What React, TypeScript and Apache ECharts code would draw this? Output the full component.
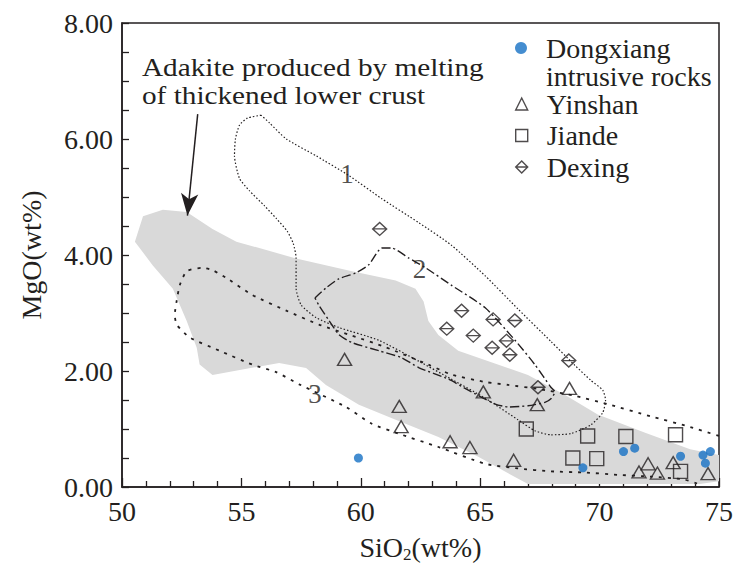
import React, { useEffect, useRef } from 'react';
import * as echarts from 'echarts';

const FONT = '"Liberation Serif", "Times New Roman", serif';
const INK = '#231f20';
const BLUE = '#1570c4';
const GREY = '#d9d9d9';

// ---- axes ----
const xTicks = [50, 55, 60, 65, 70, 75];
const yTicks = [0, 2, 4, 6, 8];

// ---- samples (SiO2, MgO) ----
const dongxiang = [[59.9, 0.5], [69.3, 0.33], [71.0, 0.61], [71.47, 0.67], [73.39, 0.53], [74.33, 0.55], [74.64, 0.61], [74.43, 0.41]];
const yinshan = [[59.32, 2.2], [61.61, 1.39], [61.69, 1.04], [65.13, 1.64], [68.74, 1.7], [67.39, 1.42], [63.74, 0.78], [64.57, 0.68], [66.4, 0.46], [72.03, 0.4], [71.65, 0.26], [72.42, 0.24], [73.08, 0.42], [74.54, 0.23]];
const jiande = [[66.93, 1.0], [69.5, 0.88], [71.1, 0.87], [73.18, 0.9], [68.88, 0.5], [69.88, 0.49], [73.39, 0.27]];
const dexing = [[60.79, 4.45], [64.22, 3.04], [63.6, 2.73], [64.71, 2.61], [65.54, 2.89], [66.45, 2.87], [66.1, 2.52], [65.5, 2.4], [66.24, 2.28], [68.71, 2.18], [67.42, 1.72]];

// ---- fields ----
const adakiteField = [[50.54, 4.23], [50.88, 4.67], [51.71, 4.78], [52.71, 4.74], [53.79, 4.45], [54.79, 4.23], [57.29, 3.94], [59.63, 3.72], [61.46, 3.56], [62.29, 3.42], [62.63, 3.2], [62.83, 2.86], [63.25, 2.62], [64.08, 2.35], [67.0, 1.93], [68.54, 1.59], [69.92, 1.25], [71.88, 0.94], [73.79, 0.65], [75.0, 0.55], [75.0, 0.1], [74.2, 0.05], [67.0, 0.05], [64.92, 0.52], [63.25, 0.86], [61.46, 1.16], [59.92, 1.42], [58.54, 1.76], [57.71, 2.05], [56.58, 2.14], [53.79, 1.93], [53.25, 2.11], [53.13, 2.4], [52.71, 2.86], [52.13, 3.42], [51.29, 3.82]];
const field1 = [[55.83, 6.41], [55.25, 6.36], [54.92, 6.24], [54.75, 6.0], [54.71, 5.71], [54.92, 5.32], [55.33, 5.11], [55.96, 4.85], [56.46, 4.63], [56.92, 4.41], [57.17, 4.2], [57.29, 3.95], [57.29, 3.43], [57.5, 3.14], [58.13, 2.92], [59.08, 2.75], [60.75, 2.53], [62.42, 2.17], [63.79, 1.86], [65.21, 1.53], [66.58, 1.16], [67.29, 0.97], [67.96, 0.9], [68.79, 0.92], [69.63, 1.07], [70.13, 1.28], [70.25, 1.5], [70.13, 1.67], [69.63, 1.84], [68.96, 2.1], [67.96, 2.51], [66.58, 3.07], [65.21, 3.64], [63.79, 4.17], [62.42, 4.56], [60.88, 4.97], [59.5, 5.37], [58.13, 5.71], [56.88, 6.0], [56.17, 6.28], [55.83, 6.41]];
const field2 = [[58.08, 3.26], [58.54, 3.43], [59.08, 3.59], [59.79, 3.69], [60.33, 3.83], [60.88, 4.12], [61.29, 4.12], [62.0, 3.95], [62.71, 3.78], [63.79, 3.48], [65.21, 3.09], [66.46, 2.53], [67.29, 2.11], [67.96, 1.72], [68.13, 1.64], [67.96, 1.52], [67.71, 1.46], [67.0, 1.4], [66.17, 1.38], [65.63, 1.43], [64.5, 1.67], [63.67, 1.86], [62.42, 2.06], [61.71, 2.23], [60.75, 2.35], [59.63, 2.49], [59.08, 2.63], [58.67, 2.87], [58.25, 3.13], [58.08, 3.26]];
const field3 = [[75.0, 0.88], [73.67, 1.05], [72.13, 1.22], [70.33, 1.43], [68.88, 1.58], [67.42, 1.69], [66.17, 1.76], [65.21, 1.81], [63.79, 1.94], [62.83, 2.11], [61.04, 2.41], [59.63, 2.61], [58.25, 2.8], [56.88, 3.04], [55.46, 3.31], [54.5, 3.57], [53.79, 3.74], [53.38, 3.78], [52.71, 3.72], [52.42, 3.48], [52.29, 3.21], [52.21, 2.97], [52.29, 2.8], [52.83, 2.58], [54.08, 2.35], [55.46, 2.11], [56.46, 1.98], [57.42, 1.77], [59.38, 1.38], [60.46, 1.09], [61.58, 0.92], [63.25, 0.69], [65.21, 0.4], [66.58, 0.32], [67.96, 0.27], [69.38, 0.25], [70.75, 0.21], [72.13, 0.18], [73.54, 0.13], [74.08, 0.06]];
const fieldLabels = [{ name: '1', value: [59.42, 5.39] }, { name: '2', value: [62.46, 3.76] }, { name: '3', value: [58.08, 1.6] }];
const arrowFrom = [53.17, 6.43];
const arrowTo = [52.74, 4.68];

const DIAMOND = 'path://M10,0 L20,10 L10,20 L0,10 Z M0,10 L20,10';
const hollow = { color: 'rgba(0,0,0,0)', borderColor: INK, borderWidth: 1.4 };

const option: any = {
  animation: false,
  backgroundColor: '#ffffff',
  textStyle: { fontFamily: FONT },
  grid: { left: 122, right: 14, top: 23, bottom: 78, show: true, borderColor: INK, borderWidth: 1.5, backgroundColor: 'transparent' },
  xAxis: {
    type: 'value', min: xTicks[0], max: xTicks[xTicks.length - 1], interval: 5,
    name: 'SiO{sub|2}(wt%)', nameLocation: 'middle', nameGap: 45,
    nameTextStyle: { fontFamily: FONT, fontSize: 28, color: INK, rich: { sub: { fontFamily: FONT, fontSize: 17, color: INK, padding: [14, 0, 0, 0] } } },
    axisLine: { lineStyle: { color: INK, width: 1.5 } },
    axisTick: { inside: true, length: 9, lineStyle: { color: INK, width: 1.3 } },
    minorTick: { show: true, splitNumber: 5, length: 6, lineStyle: { color: INK, width: 1.3 } },
    axisLabel: { fontFamily: FONT, fontSize: 28, color: INK, margin: 10 },
    splitLine: { show: false },
  },
  yAxis: {
    type: 'value', min: yTicks[0], max: yTicks[yTicks.length - 1], interval: 2,
    name: 'MgO(wt%)', nameLocation: 'middle', nameGap: 77, nameRotate: 90,
    nameTextStyle: { fontFamily: FONT, fontSize: 28, color: INK },
    axisLine: { lineStyle: { color: INK, width: 1.5 } },
    axisTick: { inside: true, length: 7, lineStyle: { color: INK, width: 1.3 } },
    minorTick: { show: true, splitNumber: 4, length: 7, lineStyle: { color: INK, width: 1.3 } },
    axisLabel: { fontFamily: FONT, fontSize: 28, color: INK, margin: 9, formatter: (v: number) => v.toFixed(2) },
    splitLine: { show: false },
  },
  legend: [
    {
      data: [{ name: 'Dongxiang intrusive rocks', icon: 'circle', itemStyle: { color: BLUE, borderWidth: 0 } }],
      orient: 'vertical', left: 515, top: 34, padding: 0, itemWidth: 12, itemHeight: 12, selectedMode: false,
      formatter: () => 'Dongxiang',
      textStyle: { fontFamily: FONT, fontSize: 28, color: INK, lineHeight: 24, padding: [0, 0, 0, 14] },
    },
    {
      data: [
        { name: 'Yinshan', icon: 'triangle', itemStyle: hollow },
        { name: 'Jiande', icon: 'rect', itemStyle: hollow },
        { name: 'Dexing', icon: DIAMOND, itemStyle: hollow },
      ],
      orient: 'vertical', left: 515, top: 90, padding: 0, itemWidth: 12, itemHeight: 12, itemGap: 3.5, selectedMode: false,
      textStyle: { fontFamily: FONT, fontSize: 28, color: INK, lineHeight: 28, padding: [0, 0, 0, 14] },
    },
  ],
  graphic: [
    { type: 'text', x: 142, y: 54, scaleX: 1.17, silent: true, style: { text: 'Adakite produced by melting\nof thickened lower crust', font: '25px ' + FONT, fill: INK, lineHeight: 28, verticalAlign: 'top' } },
    { type: 'text', x: 546, y: 76, silent: true, style: { text: 'intrusive rocks', font: '28px ' + FONT, fill: INK, lineHeight: 24, verticalAlign: 'middle' } },
  ],
  series: [
    {
      type: 'custom', name: 'Adakite field', silent: true, z: 1, data: [adakiteField[0]],
      renderItem: (_p: any, api: any) => ({
        type: 'polygon',
        shape: { points: adakiteField.map((p) => api.coord(p)) },
        style: { fill: GREY },
      }),
    },
    {
      type: 'line', name: 'Field 1', data: field1, showSymbol: false, symbol: 'none', smooth: 0.2, silent: true, z: 2,
      lineStyle: { color: INK, width: 1.2, type: [1.5, 2] },
      markLine: {
        silent: true, symbol: ['none', 'arrow'], symbolSize: [13, 22], animation: false,
        lineStyle: { type: 'solid', color: INK, width: 1.5 }, label: { show: false },
        data: [[{ coord: arrowFrom }, { coord: arrowTo }]],
      },
    },
    { type: 'line', name: 'Field 2', data: field2, showSymbol: false, symbol: 'none', smooth: 0.2, silent: true, z: 2, lineStyle: { color: INK, width: 1.4, type: [9, 3, 2, 3] } },
    { type: 'line', name: 'Field 3', data: field3, showSymbol: false, symbol: 'none', smooth: 0.2, silent: true, z: 2, lineStyle: { color: INK, width: 1.8, type: [3, 6] } },
    {
      type: 'scatter', name: 'Field labels', data: fieldLabels, symbolSize: 1, silent: true, z: 3,
      itemStyle: { color: 'rgba(0,0,0,0)' },
      label: { show: true, position: 'inside', formatter: '{b}', fontFamily: FONT, fontSize: 27, color: INK },
    },
    { type: 'scatter', name: 'Yinshan', data: yinshan, symbol: 'triangle', symbolSize: [14, 12], itemStyle: hollow, z: 4 },
    { type: 'scatter', name: 'Jiande', data: jiande, symbol: 'rect', symbolSize: 14, itemStyle: hollow, z: 4 },
    { type: 'scatter', name: 'Dexing', data: dexing, symbol: DIAMOND, symbolSize: [14, 13], itemStyle: hollow, z: 4 },
    { type: 'scatter', name: 'Dongxiang intrusive rocks', data: dongxiang, symbol: 'circle', symbolSize: 9, itemStyle: { color: BLUE }, z: 5 },
  ],
};

export default function App() {
  const ref = useRef<HTMLDivElement>(null);
  useEffect(() => {
    const chart = echarts.init(ref.current!, null, { renderer: 'svg' });
    chart.setOption(option);
    return () => chart.dispose();
  }, []);
  return <div ref={ref} style={{ position: 'fixed', left: 0, top: 0, width: 736, height: 568, background: '#fff' }} />;
}
